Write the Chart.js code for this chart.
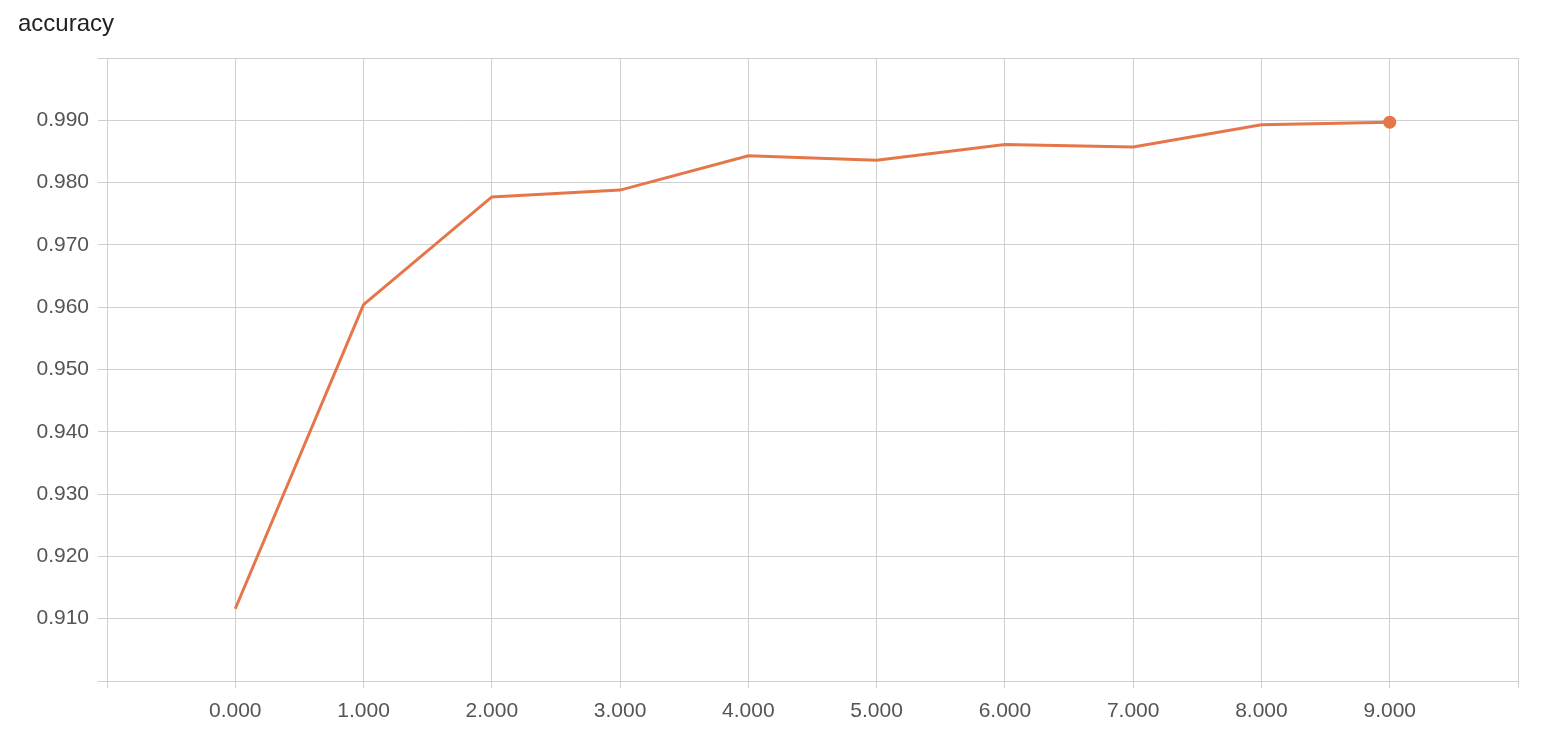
<!DOCTYPE html>
<html>
<head>
<meta charset="utf-8">
<script src="https://cdn.jsdelivr.net/npm/chart.js@4/dist/chart.umd.min.js"></script>
<style>
  html, body { margin: 0; padding: 0; background: #fff; }
  #wrap { width: 1558px; height: 748px; position: relative; }
</style>
</head>
<body>
<div id="wrap"><canvas id="c" width="1558" height="748"></canvas></div>
<script>
const chartTitle = 'accuracy';
const steps = [0, 1, 2, 3, 4, 5, 6, 7, 8, 9];
const accuracy = [0.9116, 0.9604, 0.9777, 0.9788, 0.9843, 0.9836, 0.9861, 0.9857, 0.9893, 0.9897];
const xMin = -1, xMax = 10, xStep = 1;
const yMin = 0.900, yMax = 1.000, yStep = 0.010;

const FONT = "'Liberation Sans', Arial, Helvetica, sans-serif";
const lineColor = '#e5764a';
const gridColor = '#cfcfcf';

const points = steps.map((s, i) => ({ x: s, y: accuracy[i] }));
const near = (a, b) => Math.abs(a - b) < 1e-9;

new Chart(document.getElementById('c'), {
  type: 'line',
  data: {
    datasets: [{
      label: chartTitle,
      data: points,
      borderColor: lineColor,
      backgroundColor: lineColor,
      borderWidth: 3,
      tension: 0,
      fill: false,
      pointRadius: ctx => ctx.dataIndex === points.length - 1 ? 6.5 : 0,
      pointBorderWidth: 0,
      pointHoverRadius: 6.5
    }]
  },
  options: {
    responsive: false,
    animation: false,
    events: [],
    layout: { padding: { left: 18, right: 40, top: 0, bottom: 0 } },
    plugins: {
      legend: { display: false },
      tooltip: { enabled: false },
      title: {
        display: true,
        text: chartTitle,
        align: 'start',
        color: '#222',
        font: { family: FONT, size: 24, weight: 'normal' },
        padding: { top: 10, bottom: 19.2 }
      }
    },
    scales: {
      x: {
        type: 'linear',
        min: xMin, max: xMax,
        afterFit: s => { s.height = 67; },
        grid: { color: gridColor, lineWidth: 1, tickLength: 7, drawTicks: true },
        border: { color: gridColor, width: 1 },
        ticks: {
          stepSize: xStep,
          padding: 11,
          maxRotation: 0,
          autoSkip: false,
          color: '#555',
          font: { family: FONT, size: 21 },
          callback: v => (near(v, xMin) || near(v, xMax)) ? '' : Number(v).toFixed(3)
        }
      },
      y: {
        type: 'linear',
        min: yMin, max: yMax,
        afterFit: s => { s.width = 89; },
        grid: { color: gridColor, lineWidth: 1, tickLength: 9, drawTicks: true },
        border: { color: gridColor, width: 1 },
        ticks: {
          stepSize: yStep,
          padding: 9,
          autoSkip: false,
          color: '#555',
          font: { family: FONT, size: 21 },
          callback: v => (near(v, yMin) || near(v, yMax)) ? '' : Number(v).toFixed(3)
        }
      }
    }
  }
});
</script>
</body>
</html>
